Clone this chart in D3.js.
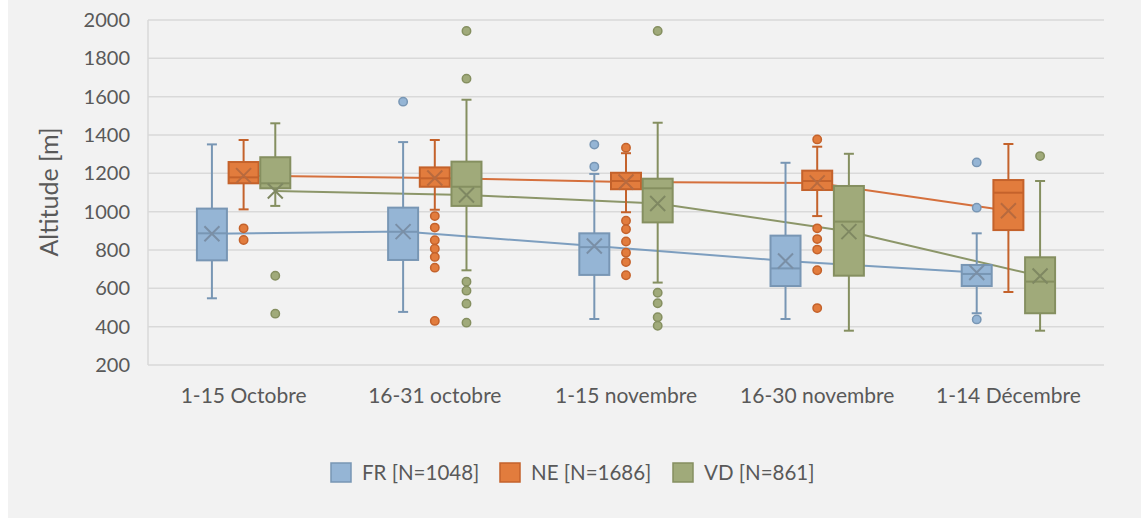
<!DOCTYPE html>
<html>
<head>
<meta charset="utf-8">
<script src="https://cdn.jsdelivr.net/npm/d3@7"></script>
<style>
  body { margin: 0; background: #fff; }
  text { font-family: Lato, "Open Sans", sans-serif; fill: #595959; }
</style>
</head>
<body>
<div id="graph"></div>
<script>
// periods on x axis
var periods = ["1-15 Octobre", "16-31 octobre", "1-15 novembre", "16-30 novembre", "1-14 Décembre"]
var series = ["FR [N=1048]", "NE [N=1686]", "VD [N=861]"]
var yTicks = [200, 400, 600, 800, 1000, 1200, 1400, 1600, 1800, 2000]

// box stats per series, one entry per period
var frMin = [548, 477, 440, 440, 470]
var frQ1 = [746, 748, 670, 612, 612]
var frMed = [887, 895, 815, 704, 675]
var frQ3 = [1016, 1021, 887, 875, 722]
var frMax = [1351, 1363, 1197, 1255, 887]
var frMean = [885, 896, 821, 743, 683]
var frOut = [[], [1574], [1350, 1235], [], [1257, 1021, 438]]

var neMin = [1012, 1010, 997, 977, 581]
var neQ1 = [1148, 1130, 1117, 1113, 904]
var neMed = [1179, 1174, 1160, 1160, 1099]
var neQ3 = [1259, 1231, 1203, 1214, 1165]
var neMax = [1374, 1374, 1305, 1339, 1353]
var neMean = [1188, 1176, 1155, 1150, 1005]
var neOut = [[913, 852], [977, 917, 851, 807, 764, 708, 430], [1334, 953, 908, 844, 786, 737, 668], [1377, 913, 857, 802, 694, 497], []]

var vdMin = [1030, 694, 630, 379, 379]
var vdQ1 = [1122, 1030, 944, 666, 470]
var vdMed = [1148, 1130, 1122, 948, 635]
var vdQ3 = [1284, 1261, 1172, 1134, 762]
var vdMax = [1461, 1584, 1464, 1302, 1160]
var vdMean = [1108, 1087, 1043, 896, 664]
var vdOut = [[666, 468], [1943, 1694, 635, 588, 520, 421], [1943, 577, 522, 449, 405], [], [1290]]

var width = 1141, height = 518

var colors = [
  {fill: "#95b5d5", stroke: "#7896b4", line: "#7d9ebf", mark: "#7a8fa6"},
  {fill: "#e27c3d", stroke: "#c4622b", line: "#d5703d", mark: "#b86a3e"},
  {fill: "#a0aa7a", stroke: "#858f60", line: "#8c9669", mark: "#7f8862"}
]

function build(mins, q1s, meds, q3s, maxs, means, outs) {
  return periods.map(function(p, i) {
    return {period: p, min: mins[i], q1: q1s[i], med: meds[i], q3: q3s[i], max: maxs[i], mean: means[i], out: outs[i]}
  })
}
var data = [
  build(frMin, frQ1, frMed, frQ3, frMax, frMean, frOut),
  build(neMin, neQ1, neMed, neQ3, neMax, neMean, neOut),
  build(vdMin, vdQ1, vdMed, vdQ3, vdMax, vdMean, vdOut)
]

let svg = d3.select("#graph")
  .append("svg")
  .attr("width", width)
  .attr("height", height)

svg.append("rect")
  .attr("x", 8).attr("y", 0)
  .attr("width", width - 8).attr("height", height)
  .attr("fill", "#f2f2f2")

var x = d3.scaleBand().domain(periods).range([148, 1104])
var y = d3.scaleLinear().domain([200, 2000]).range([365, 20])
var offset = d3.scaleBand().domain([0, 1, 2]).range([-48, 48]).padding(0.03)
var boxW = 30

// grid
svg.append("g")
  .selectAll("line")
  .data(yTicks)
  .enter()
  .append("line")
    .attr("x1", 148).attr("x2", 1104)
    .attr("y1", d => y(d)).attr("y2", d => y(d))
    .attr("stroke", "#d9d9d9")
    .attr("stroke-width", 1.5)

svg.append("line")
  .attr("x1", 148).attr("x2", 148)
  .attr("y1", y(2000)).attr("y2", y(200))
  .attr("stroke", "#d9d9d9").attr("stroke-width", 1.5)

let yAxis = svg.append("g")
  .attr("transform", "translate(148,0)")
  .call(d3.axisLeft(y).tickValues(yTicks).tickFormat(d3.format("d")).tickSize(0).tickPadding(18))
yAxis.select(".domain").remove()
yAxis.selectAll("text").style("font-size", "20px").style("fill", "#595959")
  .style("font-family", "Lato, 'Open Sans', sans-serif")

let xAxis = svg.append("g")
  .attr("transform", "translate(0,365)")
  .call(d3.axisBottom(x).tickSize(0).tickPadding(23))
xAxis.select(".domain").remove()
xAxis.selectAll("text").style("font-size", "21px").style("fill", "#595959")
  .style("font-family", "Lato, 'Open Sans', sans-serif")

svg.append("text")
  .attr("transform", "translate(58,192) rotate(-90)")
  .attr("text-anchor", "middle")
  .style("font-size", "25px")
  .text("Altitude [m]")

function cx(d, s) {
  return x(d.period) + x.bandwidth() / 2 + offset(s) + offset.bandwidth() / 2
}

// mean lines go behind the boxes
var meanLine = d3.line()
data.forEach(function(rows, s) {
  svg.append("path")
    .attr("d", meanLine(rows.map(d => [cx(d, s), y(d.mean)])))
    .attr("fill", "none")
    .attr("stroke", colors[s].line)
    .attr("stroke-width", 2)
})

data.forEach(function(rows, s) {
  var c = colors[s]
  let g = svg.append("g")
  let boxes = g.selectAll(".box")
    .data(rows)
    .enter()
    .append("g")

  // whiskers
  boxes.append("line")
    .attr("x1", d => cx(d, s)).attr("x2", d => cx(d, s))
    .attr("y1", d => y(d.max)).attr("y2", d => y(d.min))
    .attr("stroke", c.stroke).attr("stroke-width", 2)
  boxes.selectAll(".cap")
    .data(d => [d, d].map((e, k) => ({d: e, v: k ? e.min : e.max})))
    .enter()
    .append("line")
      .attr("x1", e => cx(e.d, s) - 5).attr("x2", e => cx(e.d, s) + 5)
      .attr("y1", e => y(e.v)).attr("y2", e => y(e.v))
      .attr("stroke", c.stroke).attr("stroke-width", 2)

  boxes.append("rect")
    .attr("x", d => cx(d, s) - boxW / 2)
    .attr("y", d => y(d.q3))
    .attr("width", boxW)
    .attr("height", d => y(d.q1) - y(d.q3))
    .attr("fill", c.fill)
    .attr("stroke", c.stroke)
    .attr("stroke-width", 2)

  boxes.append("line")
    .attr("x1", d => cx(d, s) - boxW / 2).attr("x2", d => cx(d, s) + boxW / 2)
    .attr("y1", d => y(d.med)).attr("y2", d => y(d.med))
    .attr("stroke", c.stroke).attr("stroke-width", 2)

  // mean marker (x)
  boxes.append("path")
    .attr("d", function(d) {
      var px = cx(d, s), py = y(d.mean), r = 7.5
      return "M" + (px - r) + "," + (py - r) + "L" + (px + r) + "," + (py + r) +
        "M" + (px - r) + "," + (py + r) + "L" + (px + r) + "," + (py - r)
    })
    .attr("stroke", c.mark).attr("stroke-width", 2).attr("fill", "none")

  boxes.selectAll("circle")
    .data(d => d.out.map(v => ({d: d, v: v})))
    .enter()
    .append("circle")
      .attr("cx", e => cx(e.d, s))
      .attr("cy", e => y(e.v))
      .attr("r", 4.2)
      .attr("fill", c.fill)
      .attr("stroke", c.stroke)
      .attr("stroke-width", 1.5)
})

// legend
var legendX = [331, 500, 673]
let legend = svg.append("g")
  .selectAll("g")
  .data(series)
  .enter()
  .append("g")
  .attr("transform", (d, i) => `translate(${legendX[i]}, 463)`)
legend.append("rect")
  .attr("width", 20).attr("height", 19)
  .attr("fill", (d, i) => colors[i].fill)
  .attr("stroke", (d, i) => colors[i].stroke)
  .attr("stroke-width", 1.5)
legend.append("text")
  .attr("x", 31).attr("y", 17)
  .style("font-size", "20.5px")
  .text(d => d)
</script>
</body>
</html>
